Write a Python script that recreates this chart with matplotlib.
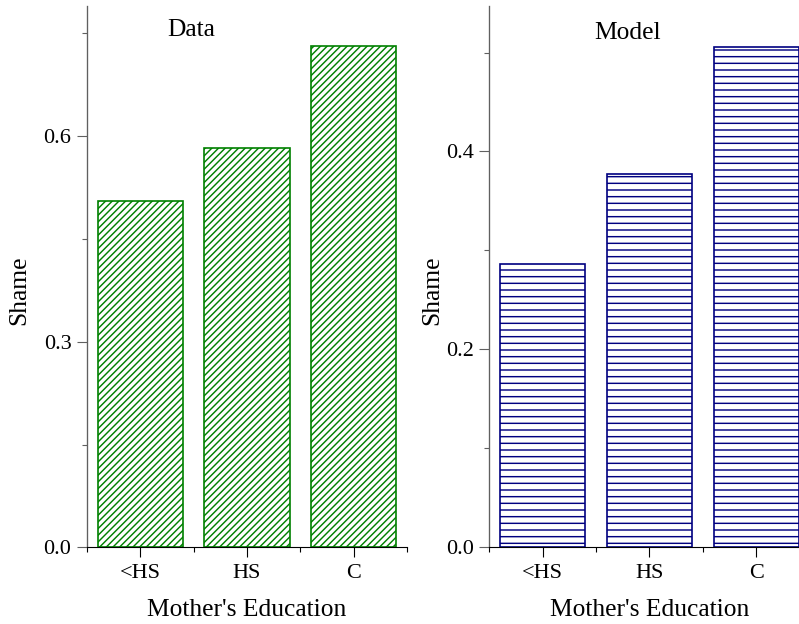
import numpy as np
import matplotlib
matplotlib.use("Agg")
import matplotlib.pyplot as plt
from matplotlib.ticker import MultipleLocator, FixedLocator

# shame by mother's education, observed vs. model
categories = ["<HS", "HS", "C"]
data_shame = [0.506, 0.583, 0.732]
model_shame = [0.286, 0.377, 0.506]

DPI = 80
plt.rcParams["font.family"] = ["Liberation Serif", "DejaVu Serif"]
plt.rcParams["hatch.linewidth"] = 1.3

fig = plt.figure(figsize=(799 / DPI, 624 / DPI), dpi=DPI)
ax_data = fig.add_axes([87 / 799, 76.7 / 624, 320 / 799, 541.3 / 624])
ax_model = fig.add_axes([489.3 / 799, 76.7 / 624, 320.4 / 799, 541.3 / 624])


def draw_panel(ax, values, color, hatch, ymax, ystep, title, title_xy, ylab_x):
    x = np.arange(1, len(values) + 1)
    ax.bar(x, values, width=0.8, facecolor="white", edgecolor=color,
           hatch=hatch, linewidth=1.5)
    ax.set_xlim(0.5, len(values) + 0.5)
    ax.set_ylim(0, ymax)
    ax.set_xticks(x)
    ax.set_xticklabels(categories)
    ax.xaxis.set_minor_locator(FixedLocator(np.arange(0.5, len(values) + 1, 1.0)))
    ax.yaxis.set_major_locator(MultipleLocator(ystep))
    ax.yaxis.set_minor_locator(MultipleLocator(ystep / 2))
    ax.yaxis.set_major_formatter(matplotlib.ticker.FormatStrFormatter("%.1f"))

    for side in ("top", "right"):
        ax.spines[side].set_visible(False)
    ax.spines["left"].set_color("#606060")
    ax.spines["left"].set_linewidth(1.2)
    ax.spines["bottom"].set_color("black")
    ax.spines["bottom"].set_linewidth(1.0)

    ax.tick_params(which="major", length=9, width=1.0, direction="out",
                   labelsize=20, color="black")
    ax.tick_params(axis="y", which="major", pad=5, color="#606060")
    ax.tick_params(axis="x", which="major", pad=6)
    ax.tick_params(which="minor", length=4.5, width=1.0, direction="out")
    ax.tick_params(axis="y", which="minor", color="#606060")

    ax.text(title_xy[0], title_xy[1], title, transform=ax.transAxes,
            ha="center", va="center", fontsize=23)
    ax.set_ylabel("Shame", fontsize=23, va="center")
    ax.yaxis.set_label_coords(ylab_x, 0.475)
    ax.set_xlabel("Mother's Education", fontsize=23, va="center")
    ax.xaxis.set_label_coords(0.5, -0.116)


draw_panel(ax_data, data_shame, "#008000", "////", 0.79, 0.3,
           "Data", (0.325, 0.956), -0.2125)
draw_panel(ax_model, model_shame, "#000080", "--", 0.547, 0.2,
           "Model", (0.433, 0.950), -0.179)

fig.savefig("out.png", dpi=DPI)
